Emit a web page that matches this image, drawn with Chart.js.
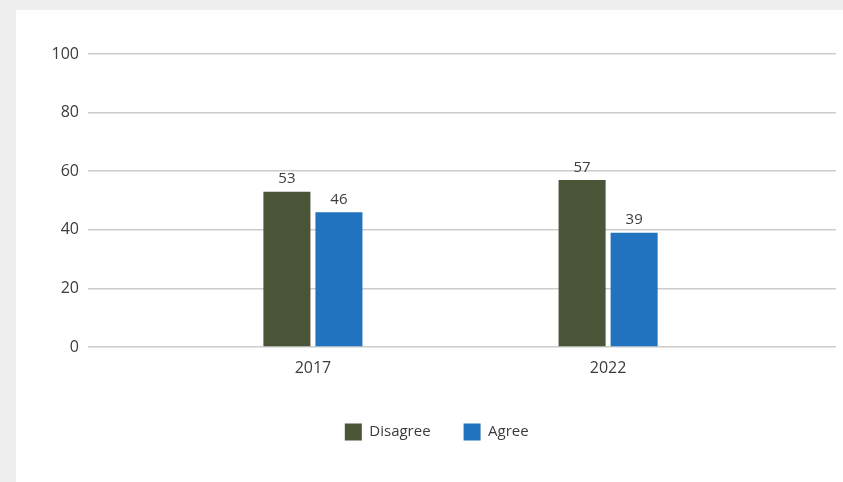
<!DOCTYPE html>
<html>
<head>
<meta charset="utf-8">
<script src="https://cdn.jsdelivr.net/npm/chart.js@4.4.1/dist/chart.umd.min.js"></script>
<style>
  html, body { margin: 0; padding: 0; background: #eeeeee; }
  #panel { position: absolute; left: 16px; top: 10px; width: 827px; height: 472px; background: #ffffff; }
</style>
</head>
<body>
<div id="panel"><canvas id="surveyChart"></canvas></div>
<script>
// survey results by year
const years = [2017, 2022];
const disagree = [53, 57];
const agree = [46, 39];
const yTicks = [0, 20, 40, 60, 80, 100];

const textColor = "#3c3c3c";

// value labels above each bar
const barLabels = {
  id: "barLabels",
  afterDatasetsDraw(chart) {
    const ctx = chart.ctx;
    ctx.save();
    ctx.font = "15px 'Open Sans'";
    ctx.fillStyle = textColor;
    ctx.textAlign = "center";
    ctx.textBaseline = "bottom";
    chart.data.datasets.forEach((ds, i) => {
      chart.getDatasetMeta(i).data.forEach((bar, j) => {
        ctx.fillText(ds.data[j].y, bar.x, bar.y - 5);
      });
    });
    ctx.restore();
  }
};

const toPoints = vals => vals.map((v, i) => ({ x: years[i], y: v }));

new Chart(document.getElementById("surveyChart"), {
  type: "bar",
  data: {
    datasets: [
      { label: "Disagree", data: toPoints(disagree), backgroundColor: "#4a5537" },
      { label: "Agree", data: toPoints(agree), backgroundColor: "#2273bf" }
    ]
  },
  options: {
    responsive: true,
    maintainAspectRatio: false,
    animation: false,
    categoryPercentage: 0.3525,
    barPercentage: 0.904,
    layout: { padding: { top: 44, right: 7, bottom: 31.5, left: 21.5 } },
    plugins: {
      tooltip: { enabled: false },
      legend: {
        position: "bottom",
        labels: {
          boxWidth: 17,
          boxHeight: 17,
          padding: 33,
          color: textColor,
          font: { family: "'Open Sans'", size: 15 }
        }
      }
    },
    scales: {
      x: {
        type: "linear",
        offset: false,
        bounds: "data",
        min: 2013.19,
        max: 2025.86,
        afterBuildTicks: s => { s.ticks = years.map(v => ({ value: v })); },
        afterFit: s => { s.height = 43.5; },
        grid: { display: false, drawTicks: false, offset: false },
        border: { display: false },
        ticks: {
          padding: 12,
          color: textColor,
          font: { family: "'Open Sans'", size: 16 },
          callback: v => String(v)
        }
      },
      y: {
        min: 0,
        max: 100,
        afterBuildTicks: s => { s.ticks = yTicks.map(v => ({ value: v })); },
        afterFit: s => { s.width = 50.5; },
        grid: { color: "#cccccc", lineWidth: 1.5, drawTicks: false },
        border: { display: false },
        ticks: {
          padding: 9,
          color: textColor,
          font: { family: "'Open Sans'", size: 16 }
        }
      }
    }
  },
  plugins: [barLabels]
});
</script>
</body>
</html>
